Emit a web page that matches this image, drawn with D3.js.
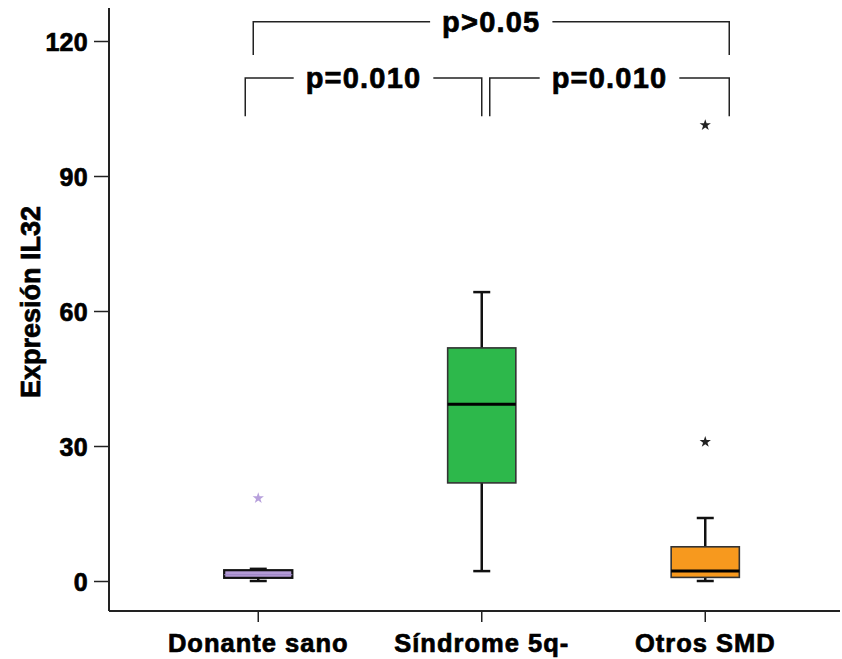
<!DOCTYPE html>
<html>
<head>
<meta charset="utf-8">
<script src="https://cdn.jsdelivr.net/npm/d3@7"></script>
<style>
  body { margin: 0; background: #fff; }
  text { font-family: "Liberation Sans", Arial, sans-serif; font-weight: bold; fill: #000; stroke: #000; stroke-width: 0.7px; }
</style>
</head>
<body>
<svg id="chart"></svg>
<script>
const width = 842;
const height = 659;

// groups and their box stats
const groups = ["Donante sano", "Síndrome 5q-", "Otros SMD"];
const whiskerLow = [0, 2.2, 0];
const q1 = [0.7, 21.8, 0.8];
const median = [1.4, 39.3, 2.2];
const q3 = [2.4, 51.8, 7.6];
const whiskerHigh = [2.7, 64.2, 14];
const outliers = [[18.4], [], [30.9, 101.3]];
const fills = ["#b49bd6", "#2db84b", "#f7991e"];
const starColors = ["#b7a0dc", "#222", "#222"];

const yTicks = [0, 30, 60, 90, 120];

// pairwise comparisons shown on top
const comparisons = [
    {from: "Donante sano", to: "Síndrome 5q-", label: "p=0.010", level: 0},
    {from: "Síndrome 5q-", to: "Otros SMD", label: "p=0.010", level: 0},
    {from: "Donante sano", to: "Otros SMD", label: "p>0.05", level: 1},
];

const svg = d3.select("#chart")
    .attr("width", width)
    .attr("height", height);

const x = d3.scaleBand()
    .domain(groups)
    .range([146.5, 817])
    .padding(0);

const y = d3.scaleLinear()
    .domain([0, 120])
    .range([581, 41]);

const axisX = 109;
const axisY = 611;
const boxW = x.bandwidth() * 0.305;
const capW = 17;
const cx = function(g) { return x(g) + x.bandwidth() / 2 };

// y axis
const yAxis = svg.append("g")
    .attr("transform", `translate(${axisX},0)`)
    .call(d3.axisLeft(y).tickValues(yTicks).tickSize(15).tickPadding(6));
yAxis.select(".domain").remove();
yAxis.selectAll(".tick line").attr("stroke", "#222").attr("stroke-width", 1.5);
yAxis.selectAll(".tick text")
    .style("font-size", "25px")
    .style("letter-spacing", "0.3px")
    .attr("dy", "0.36em");

svg.append("line")
    .attr("x1", axisX).attr("x2", axisX)
    .attr("y1", 8).attr("y2", axisY)
    .attr("stroke", "#222").attr("stroke-width", 2);

// x axis
svg.append("line")
    .attr("x1", axisX).attr("x2", 840)
    .attr("y1", axisY).attr("y2", axisY)
    .attr("stroke", "#222").attr("stroke-width", 2);

const xAxis = svg.append("g")
    .attr("transform", `translate(0,${axisY})`)
    .call(d3.axisBottom(x).tickSize(11).tickPadding(12));
xAxis.select(".domain").remove();
xAxis.selectAll(".tick line").attr("stroke", "#222").attr("stroke-width", 1.5);
xAxis.selectAll(".tick text")
    .style("font-size", "25.5px")
    .style("letter-spacing", "1px");

// y label
svg.append("text")
    .attr("transform", "translate(40,302) rotate(-90)")
    .attr("text-anchor", "middle")
    .style("font-size", "27px")
    .text("Expresión IL32");

// boxes
const box = svg.append("g")
    .selectAll("g")
    .data(groups)
    .enter().append("g");

box.append("line")
    .attr("x1", cx).attr("x2", cx)
    .attr("y1", (g, i) => y(whiskerLow[i]))
    .attr("y2", (g, i) => y(whiskerHigh[i]))
    .attr("stroke", "#111").attr("stroke-width", 2.5);

box.append("line")
    .attr("x1", g => cx(g) - capW / 2).attr("x2", g => cx(g) + capW / 2)
    .attr("y1", (g, i) => y(whiskerLow[i])).attr("y2", (g, i) => y(whiskerLow[i]))
    .attr("stroke", "#111").attr("stroke-width", 2.5);

box.append("line")
    .attr("x1", g => cx(g) - capW / 2).attr("x2", g => cx(g) + capW / 2)
    .attr("y1", (g, i) => y(whiskerHigh[i])).attr("y2", (g, i) => y(whiskerHigh[i]))
    .attr("stroke", "#111").attr("stroke-width", 2.5);

box.append("rect")
    .attr("x", g => cx(g) - boxW / 2)
    .attr("width", boxW)
    .attr("y", (g, i) => y(q3[i]))
    .attr("height", (g, i) => y(q1[i]) - y(q3[i]))
    .attr("fill", (g, i) => fills[i])
    .attr("stroke", (g, i) => i === 0 ? "#111" : "#333")
    .attr("stroke-width", (g, i) => i === 0 ? 2.2 : 1.6);

box.append("line")
    .attr("x1", g => cx(g) - boxW / 2).attr("x2", g => cx(g) + boxW / 2)
    .attr("y1", (g, i) => y(median[i])).attr("y2", (g, i) => y(median[i]))
    .attr("stroke", (g, i) => i === 0 ? "#9c84c4" : "#000")
    .attr("stroke-width", (g, i) => i === 0 ? 1 : 3);

// outliers
const star = d3.symbol().type(d3.symbolStar).size(40);
box.each(function(g, i) {
    d3.select(this).selectAll("path.out")
        .data(outliers[i])
        .enter().append("path")
        .attr("class", "out")
        .attr("d", star)
        .attr("transform", v => `translate(${cx(g)},${y(v)})`)
        .attr("fill", starColors[i]);
});

// comparison brackets
const levelY = [111.8, 124.3];
const dropY = [103.3, 116.9];
// nudge bracket ends so neighbouring brackets don't touch
const endShift = {
    "0-0": [-13, 0], "0-1": [8, 24], "1-0": [-5, 24]
};

comparisons.forEach(function(c, k) {
    const key = c.level + "-" + (c.level === 1 ? 0 : (c.from === groups[0] ? 0 : 1));
    const x1 = cx(c.from) + endShift[key][0];
    const x2 = cx(c.to) + endShift[key][1];
    const yl = y(levelY[c.level]);
    const yd = y(dropY[c.level]);
    const mid = (x1 + x2) / 2;

    const t = svg.append("text")
        .attr("x", mid)
        .attr("y", yl + 10)
        .attr("text-anchor", "middle")
        .style("font-size", "29px")
        .style("letter-spacing", "1.2px")
        .text(c.label);
    const tw = t.node().getComputedTextLength();
    const gap = 12;

    const path = d3.path();
    path.moveTo(x1, yd);
    path.lineTo(x1, yl);
    path.lineTo(mid - tw / 2 - gap, yl);
    path.moveTo(mid + tw / 2 + gap, yl);
    path.lineTo(x2, yl);
    path.lineTo(x2, yd);

    svg.append("path")
        .attr("d", path.toString())
        .attr("fill", "none")
        .attr("stroke", "#222")
        .attr("stroke-width", 1.5);
});
</script>
</body>
</html>
